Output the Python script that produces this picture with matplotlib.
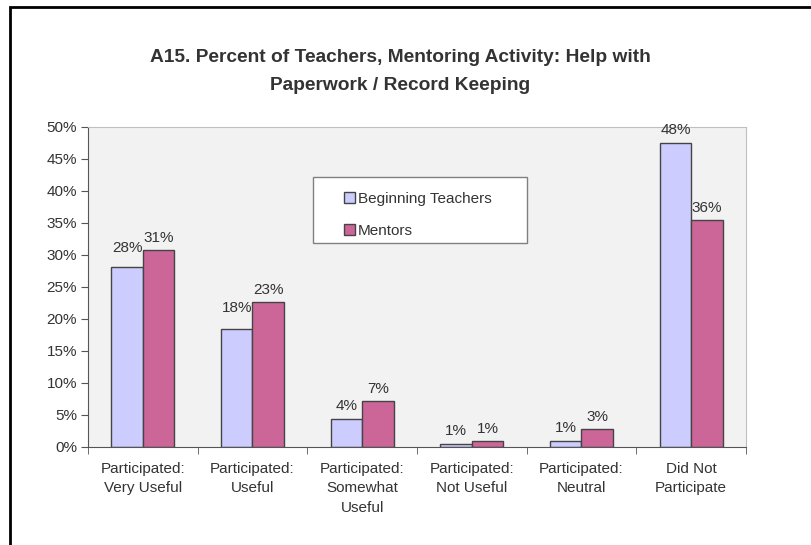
import numpy as np
import matplotlib
matplotlib.use("Agg")
import matplotlib.pyplot as plt
from matplotlib.patches import Rectangle

plt.rcParams['font.family'] = ['Liberation Sans', 'DejaVu Sans']

categories = ["Participated:\nVery Useful", "Participated:\nUseful", "Participated:\nSomewhat\nUseful",
              "Participated:\nNot Useful", "Participated:\nNeutral", "Did Not\nParticipate"]
beginning = [28.1, 18.4, 4.4, 0.5, 1.0, 47.5]
mentors = [30.8, 22.7, 7.2, 1.0, 2.8, 35.5]
beginning_labels = ["28%", "18%", "4%", "1%", "1%", "48%"]
mentors_labels = ["31%", "23%", "7%", "1%", "3%", "36%"]

W, H = 812, 545
fig = plt.figure(figsize=(W / 100, H / 100), dpi=100)
fig.patch.set_facecolor("white")

# outer chart border (cut off at right and bottom)
fig.patches.append(Rectangle((10 / W, -0.1), 1.2, (H - 7) / H + 0.1, transform=fig.transFigure,
                             fill=False, edgecolor="black", linewidth=2))

ax = fig.add_axes([88 / W, (H - 447) / H, (746 - 88) / W, (447 - 127) / H])
ax.set_facecolor("#F2F2F2")

x = np.arange(len(categories))
w = 0.287
txt = "#333333"
fs = 11
b1 = ax.bar(x - w / 2, beginning, w, color="#CCCCFF", edgecolor="#444444", linewidth=1,
            label="Beginning Teachers")
b2 = ax.bar(x + w / 2, mentors, w, color="#CC6699", edgecolor="#444444", linewidth=1,
            label="Mentors")

# data labels; a couple of the light bars have their label lifted clear of the neighbour
pads1 = [8.5, 10.5, 4, 4, 4, 4]
pads2 = [3.5, 3.5, 3.5, 3.5, 3.5, 3.5]
for bars, labels, pads in [(b1, beginning_labels, pads1), (b2, mentors_labels, pads2)]:
    for r, lab, p in zip(bars, labels, pads):
        ax.annotate(lab, (r.get_x() + r.get_width() / 2, r.get_height()), xytext=(0, p),
                    textcoords="offset points", ha="center", va="bottom", fontsize=fs, color=txt)

ax.set_xlim(-0.5, len(categories) - 0.5)
ax.set_ylim(0, 50)
ax.set_yticks(np.arange(0, 51, 5))
ax.set_yticklabels([f"{v}%" for v in range(0, 51, 5)])
ax.set_xticks(x)
ax.set_xticklabels(categories, linespacing=1.53)
ax.set_xticks(np.arange(-0.5, len(categories)), minor=True)
ax.tick_params(axis="x", which="major", length=0, pad=10.5, labelsize=fs, labelcolor=txt)
ax.tick_params(axis="x", which="minor", length=5, direction="out", color="#555555")
ax.tick_params(axis="y", length=5, direction="out", color="#555555", labelsize=fs,
               labelcolor=txt, pad=3)

for s in ["left", "bottom"]:
    ax.spines[s].set_color("#555555")
for s in ["top", "right"]:
    ax.spines[s].set_color("#BFBFBF")

fig.text(400 / W, (H - 71.5) / H, "A15. Percent of Teachers, Mentoring Activity: Help with\nPaperwork / Record Keeping",
         ha="center", va="center", fontsize=13.8, fontweight="bold", color=txt, linespacing=1.8)

# legend
ax.add_patch(Rectangle((313 / W, (H - 243) / H), (527 - 313) / W, (243 - 177) / H,
                       transform=fig.transFigure, facecolor="white", edgecolor="#808080",
                       linewidth=1, zorder=4, clip_on=False))
leg = ax.legend(loc="upper left", bbox_to_anchor=(336 / W, (H - 184) / H),
                bbox_transform=fig.transFigure, frameon=False, fontsize=fs,
                handlelength=0.75, handleheight=0.75, handletextpad=0.2, labelspacing=1.2,
                borderpad=0)
for t in leg.get_texts():
    t.set_color(txt)
leg.set_zorder(5)

fig.savefig("out.png", dpi=100)
